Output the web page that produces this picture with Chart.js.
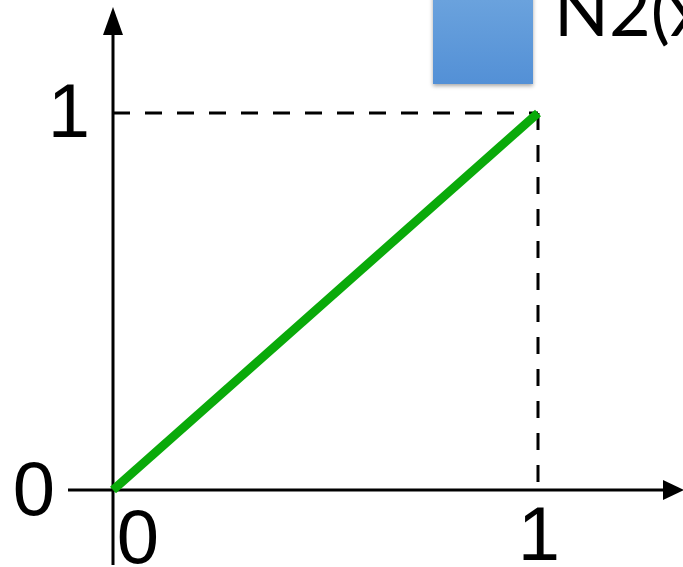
<!DOCTYPE html>
<html>
<head>
<meta charset="utf-8">
<script src="https://cdn.jsdelivr.net/npm/chart.js@4/dist/chart.umd.min.js"></script>
<style>
  html, body { margin: 0; padding: 0; background: #fff; }
  #wrap { width: 683px; height: 567px; }
</style>
</head>
<body>
<div id="wrap"><canvas id="chart1" width="683" height="567"></canvas></div>
<script>
const xValues = [0, 1];
const yValues = [0, 1];
const xTicks = ['0', '1'];
const yTicks = ['0', '1'];
const legendLabel = 'N2(x)';

const chart1 = document.getElementById('chart1');

// axes with arrows, dashed guides, big tick labels and the clipped legend
const drawAxes = {
    id: 'drawAxes',
    beforeDatasetsDraw(chart) {
        const ctx = chart.ctx;
        const xs = chart.scales.x;
        const ys = chart.scales.y;
        const x0 = xs.getPixelForValue(0), x1 = xs.getPixelForValue(1);
        const y0 = ys.getPixelForValue(0), y1 = ys.getPixelForValue(1);
        ctx.save();

        // dashed guides
        ctx.strokeStyle = '#000';
        ctx.lineWidth = 3;
        ctx.setLineDash([17, 15]);
        ctx.beginPath();
        ctx.moveTo(x0, y1);
        ctx.lineTo(x1, y1);
        ctx.moveTo(x1, y1);
        ctx.lineTo(x1, y0);
        ctx.stroke();
        ctx.setLineDash([]);

        // axes
        ctx.beginPath();
        ctx.moveTo(x0, 565);
        ctx.lineTo(x0, 30);
        ctx.moveTo(68, y0);
        ctx.lineTo(665, y0);
        ctx.stroke();
        ctx.fillStyle = '#000';
        ctx.beginPath();
        ctx.moveTo(x0, 7);
        ctx.lineTo(x0 - 10, 35);
        ctx.lineTo(x0 + 10, 35);
        ctx.closePath();
        ctx.fill();
        ctx.beginPath();
        ctx.moveTo(684, y0);
        ctx.lineTo(663, y0 - 10);
        ctx.lineTo(663, y0 + 10);
        ctx.closePath();
        ctx.fill();

        // tick labels
        ctx.font = '76px "Liberation Sans", Arial, sans-serif';
        ctx.textAlign = 'center';
        ctx.textBaseline = 'alphabetic';
        ctx.fillText(yTicks[0], x0 - 79, y0 + 25);
        ctx.fillText(yTicks[1], x0 - 44, y1 + 24);
        ctx.fillText(xTicks[0], x0 + 25, y0 + 73);
        ctx.fillText(xTicks[1], x1 + 1, y0 + 70);

        // legend fragment
        ctx.save();
        ctx.shadowColor = 'rgba(0,0,0,0.35)';
        ctx.shadowBlur = 4;
        ctx.shadowOffsetY = 2;
        const g = ctx.createLinearGradient(0, 0, 0, 84);
        g.addColorStop(0, '#6aa2dd');
        g.addColorStop(1, '#5390d6');
        ctx.fillStyle = g;
        ctx.fillRect(433, -5, 100, 89);
        ctx.restore();
        ctx.fillStyle = '#000';
        ctx.font = '72px Lato, "Open Sans", sans-serif';
        ctx.textAlign = 'left';
        ctx.fillText(legendLabel, 554, 36);

        ctx.restore();
    }
};

const myChart = new Chart(chart1, {
    type: 'line',
    data: {
        datasets: [{
            label: legendLabel,
            data: xValues.map((x, i) => ({ x: x, y: yValues[i] })),
            borderColor: '#0aaa0a',
            borderWidth: 9,
            borderCapStyle: 'butt',
            pointRadius: 0,
            fill: false,
            tension: 0,
            clip: false
        }]
    },
    options: {
        responsive: false,
        animation: false,
        layout: { padding: { left: 113, right: 145, top: 113, bottom: 77 } },
        plugins: {
            legend: { display: false },
            tooltip: { enabled: false }
        },
        scales: {
            x: { type: 'linear', min: 0, max: 1, display: false },
            y: { type: 'linear', min: 0, max: 1, display: false }
        }
    },
    plugins: [drawAxes]
});
</script>
</body>
</html>
